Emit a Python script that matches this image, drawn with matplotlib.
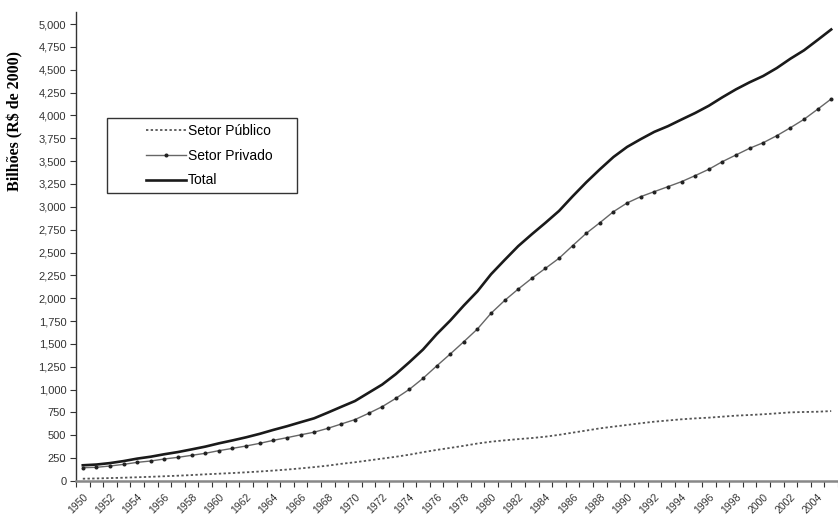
import numpy as np
import matplotlib
matplotlib.use('Agg')
import matplotlib.pyplot as plt
from matplotlib.patches import Rectangle

# --- data (billions of R$ of 2000) ---
years = list(range(1950, 2006))

setor_publico = [25, 28, 32, 36, 41, 46, 52, 58, 65, 73,
                 80, 87, 95, 104, 114, 125, 138, 152, 168, 188,
                 205, 225, 245, 265, 288, 315, 340, 362, 385, 410,
                 430, 445, 458, 470, 485, 505, 529, 552, 576, 595,
                 613, 632, 649, 662, 675, 685, 693, 704, 715, 722,
                 730, 740, 751, 755, 758, 765]

setor_privado = [145, 150, 164, 182, 204, 219, 241, 259, 281, 303,
                 332, 357, 383, 412, 445, 474, 505, 534, 576, 624,
                 672, 740, 813, 904, 1003, 1123, 1258, 1389, 1524, 1663,
                 1835, 1975, 2100, 2218, 2327, 2437, 2575, 2710, 2826, 2947,
                 3042, 3111, 3166, 3220, 3275, 3341, 3410, 3494, 3567, 3640,
                 3701, 3778, 3865, 3957, 4067, 4180]

total = [172, 180, 196, 218, 245, 266, 293, 317, 346, 376,
         412, 444, 478, 516, 559, 599, 643, 686, 748, 812,
         875, 965, 1055, 1169, 1300, 1438, 1605, 1755, 1920, 2075,
         2262, 2418, 2570, 2700, 2825, 2955, 3115, 3268, 3410, 3545,
         3655, 3740, 3820, 3882, 3955, 4026, 4105, 4198, 4285, 4362,
         4431, 4518, 4620, 4712, 4825, 4940]

y_ticks = list(range(0, 5001, 250))
x_label_years = list(range(1950, 2005, 2))

plt.rcParams['font.family'] = ['Liberation Sans', 'DejaVu Sans']

W, H = 838, 518
fig = plt.figure(figsize=(W / 100, H / 100), dpi=100)

# axes box in pixels: left 76, right 838, top 12, bottom 481
ax_l, ax_r, ax_t, ax_b = 76, 838, 12, 481
ax = fig.add_axes([ax_l / W, (H - ax_b) / H, (ax_r - ax_l) / W, (ax_b - ax_t) / H])

x = np.arange(len(years))

ax.plot(x, setor_publico, color='#555555', lw=1.3, linestyle=(0, (1.3, 1.3)),
        label='Setor Público')
ax.plot(x, setor_privado, color='#666666', lw=1.0, marker='o', markersize=1.9,
        markerfacecolor='#222222', markeredgecolor='#222222',
        label='Setor Privado')
ax.plot(x, total, color='#1a1a1a', lw=1.9, label='Total')

ax.set_xlim(-0.5, (ax_r - 81.7) / 13.75)
ax.set_ylim(0, 5000 + 12 / 0.0914)

# y axis
ax.set_yticks(y_ticks)
ax.set_yticklabels([f'{v:,}' for v in y_ticks], fontsize=8, color='#333333')
ax.tick_params(axis='y', direction='out', length=4, width=0.8, color='#333333', pad=3)

# x axis: ticks between categories, labels every 2 years at the centers
ax.set_xticks(np.arange(-0.5, len(years), 1))
ax.set_xticklabels([])
ax.tick_params(axis='x', which='major', direction='out', length=4, width=0.8, color='#333333')
ax.set_xticks([years.index(y) for y in x_label_years], minor=True)
ax.set_xticklabels([str(y) for y in x_label_years], minor=True, rotation=45,
                   ha='right', rotation_mode='anchor', fontsize=7.5, color='#333333')
ax.tick_params(axis='x', which='minor', length=0, pad=8)

for side in ['top', 'right']:
    ax.spines[side].set_visible(False)
ax.spines['left'].set_color('#333333')
ax.spines['left'].set_linewidth(1.0)
ax.spines['bottom'].set_color('#888888')
ax.spines['bottom'].set_linewidth(1.8)

fig.text(15 / W, 1 - 121 / H, 'Bilhões (R$ de 2000)', rotation=90, ha='center', va='center',
         fontsize=11.5, fontweight='bold', family=['Liberation Serif', 'DejaVu Serif'])

# legend frame + entries
def px_to_axes(px, py):
    return (px - ax_l) / (ax_r - ax_l), (ax_b - py) / (ax_b - ax_t)

fx0, fy0 = px_to_axes(107, 193)
fx1, fy1 = px_to_axes(297, 118)
ax.add_patch(Rectangle((fx0, fy0), fx1 - fx0, fy1 - fy0, transform=ax.transAxes,
                       fill=False, edgecolor='#333333', lw=1.0, zorder=5))
lx, ly = px_to_axes(143, 121)
ax.legend(loc='upper left', bbox_to_anchor=(lx, ly), frameon=False, fontsize=10,
          handlelength=2.9, handletextpad=0.15, labelspacing=0.78, borderpad=0.2,
          borderaxespad=0)

fig.savefig('out.png', dpi=100, facecolor='white')
